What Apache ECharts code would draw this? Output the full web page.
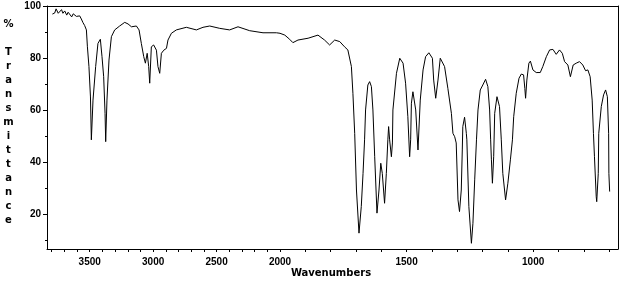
<!DOCTYPE html>
<html><head><meta charset="utf-8">
<script src="https://cdn.jsdelivr.net/npm/echarts@6/dist/echarts.min.js"></script>
<style>html,body{margin:0;padding:0;background:#fff}#c{width:624px;height:289px}</style>
</head><body><div id="c"></div>
<script>
// Spectrum: wavenumber (cm-1) and % transmittance
const wavenumbers = [
  3794,3776,3765,3758,3748,3737,3722,3711,3697,3681,3670,3658,3642,3630,3618,3605,3592,3579,3566,3553,
  3540,3526,3518,3506,3494,3487,3474,3453,3435,3416,3403,3390,3379,3374,3364,3348,3329,3303,3264,3224,
  3198,3171,3132,3111,3093,3074,3061,3047,3035,3027,3014,2996,2974,2962,2948,2935,2916,2895,2883,2856,
  2817,2738,2659,2607,2554,2475,2397,2331,2239,2134,2028,2000,
  1981,1962,1949,1929,1889,1850,1824,1804,1784,1764,1745,1732,1718,1712,1705,1698,1688,1679,1672,1666,
  1662,1653,1646,1639,1633,1626,1617,1609,1602,1596,1587,1580,1574,1571,1567,1560,1556,1554,1540,1527,
  1514,1504,1495,1488,1484,1481,1475,1464,1455,1446,1435,1425,1412,1398,1393,1385,1376,1367,1360,1350,
  1337,1323,1317,1310,1304,1297,1291,1284,1280,1278,1271,1264,1262,1254,1244,1238,1231,1224,1218,1209,
  1199,1188,1179,1172,1168,1165,1161,1156,1152,1143,1133,1126,1120,1109,1100,1090,1082,1077,1067,1056,
  1047,1038,1033,1030,1025,1017,1011,1001,988,972,962,948,935,922,909,896,885,876,863,853,
  842,830,817,804,793,784,775,767,762,758,751,749,743,741,731,722,714,707,702,701,698
];
const transmittance = [
  96.9,97.3,98.9,98.5,97.2,97.7,98.6,97.2,98.1,96.5,97.6,97.3,95.8,97.0,96.5,96.0,95.6,96.2,95.0,93.6,
  92.5,90.8,84.3,76.7,65.0,48.5,63.8,76.7,85.6,87.2,80.5,72.8,58.7,47.8,63.8,79.2,88.2,90.8,92.3,93.7,
  93.1,92.0,92.3,90.8,85.6,80.5,78.0,81.8,76.7,70.3,84.3,85.0,83.0,76.7,74.1,81.8,83.0,83.7,86.9,89.5,
  90.8,91.8,90.8,91.8,92.3,91.4,90.8,92.0,90.5,89.7,89.7,89.5,
  88.8,87.2,85.9,86.9,87.6,88.8,86.9,85.0,86.9,86.3,84.3,83.1,76.7,66.4,51.0,29.2,12.6,22.8,35.6,48.5,
  60.0,69.6,70.9,69.0,60.0,42.0,20.3,29.2,39.5,35.6,24.1,35.6,48.5,53.6,48.5,42.0,47.3,60.0,74.1,79.9,
  78.0,70.3,57.4,42.0,48.5,62.6,67.0,60.0,44.6,63.8,75.4,80.5,82.0,79.9,71.5,64.5,71.5,79.9,80.3,76.7,
  68.3,58.7,51.0,49.7,47.3,25.4,20.9,29.2,44.6,53.6,57.2,51.0,48.5,22.8,8.7,16.4,33.1,48.5,60.0,67.7,
  69.6,71.8,69.0,60.0,48.5,40.8,31.8,42.0,58.7,65.1,61.3,48.5,35.6,25.4,31.8,40.8,48.5,57.4,66.4,72.2,
  73.8,73.5,68.3,64.5,71.5,78.0,78.8,75.4,74.4,74.4,76.7,80.5,83.1,83.3,81.4,83.1,81.8,78.6,77.3,72.8,
  77.3,78.0,78.6,77.3,75.1,75.4,72.8,63.8,51.0,42.0,26.6,24.7,35.6,51.0,61.3,65.8,67.7,65.1,51.0,35.6,28.6
];
const xLabelsHigh = [3500, 3000, 2500, 2000];
const xLabelsLow = [1500, 1000];
const xTicksHigh = [2000,2100,2200,2300,2400,2500,2600,2700,2800,2900,3000,3100,3200,3300,3400,3500,3600,3700,3800];
const xTicksLow = [700,800,900,1000,1100,1200,1300,1400,1500,1600,1700,1800,1900,2000];
const yLabels = [20, 40, 60, 80, 100];
const yMinorTicks = [10, 30, 50, 70, 90];
const breakWn = 2000;
const xHighRange = [2000, 3836.6];
const xLowRange = [665, 2000];
const yRange = [6.5, 100];

const highData = [], lowData = [];
wavenumbers.forEach((w, i) => {
  if (w >= breakWn) highData.push([w, transmittance[i]]);
  if (w <= breakWn) lowData.push([w, transmittance[i]]);
});

const plain = v => String(v);
const font = {fontFamily: 'Liberation Sans, Arial, sans-serif', fontWeight: 'bold', fontSize: 10, color: '#000'};
const lineStyle = {color: '#000', width: 1};

function bottomAxis(grid, range, ticks, labels) {
  return {
    type: 'value', gridIndex: grid, position: 'bottom', inverse: true,
    min: range[0], max: range[1],
    axisLine: {show: true, onZero: false, lineStyle},
    axisTick: {show: true, length: 3, lineStyle, customValues: ticks},
    axisLabel: Object.assign({show: true, margin: 8, customValues: labels, formatter: plain}, font),
    splitLine: {show: false}
  };
}
function topAxis(grid, range) {
  return {
    type: 'value', gridIndex: grid, position: 'top', inverse: true,
    min: range[0], max: range[1],
    axisLine: {show: true, onZero: false, lineStyle},
    axisTick: {show: false}, axisLabel: {show: false}, splitLine: {show: false}
  };
}

const chart = echarts.init(document.getElementById('c'), null, {renderer: 'canvas'});
chart.setOption({
  animation: false,
  backgroundColor: '#fff',
  grid: [
    {left: 47, top: 6, width: 233, bottom: 40},
    {left: 280, top: 6, width: 338, bottom: 40}
  ],
  xAxis: [
    bottomAxis(0, xHighRange, xTicksHigh, xLabelsHigh),
    bottomAxis(1, xLowRange, xTicksLow, xLabelsLow),
    topAxis(0, xHighRange),
    topAxis(1, xLowRange)
  ],
  yAxis: [
    {
      type: 'value', gridIndex: 0, position: 'left', min: yRange[0], max: yRange[1],
      axisLine: {show: true, onZero: false, lineStyle},
      axisTick: {show: true, length: 4, lineStyle, customValues: yLabels},
      axisLabel: Object.assign({show: true, margin: 6, customValues: yLabels, formatter: plain}, font),
      splitLine: {show: false}
    },
    {
      type: 'value', gridIndex: 0, position: 'left', min: yRange[0], max: yRange[1],
      axisLine: {show: false},
      axisTick: {show: true, length: 2, lineStyle, customValues: yMinorTicks},
      axisLabel: {show: false}, splitLine: {show: false}
    },
    {
      type: 'value', gridIndex: 1, position: 'right', min: yRange[0], max: yRange[1],
      axisLine: {show: true, onZero: false, lineStyle},
      axisTick: {show: false}, axisLabel: {show: false}, splitLine: {show: false}
    }
  ],
  series: [
    {type: 'line', xAxisIndex: 0, yAxisIndex: 0, data: highData, showSymbol: false, symbol: 'none',
     lineStyle: {color: '#000', width: 1}, silent: true},
    {type: 'line', xAxisIndex: 1, yAxisIndex: 2, data: lowData, showSymbol: false, symbol: 'none',
     lineStyle: {color: '#000', width: 1}, silent: true}
  ],
  graphic: [
    {type: 'text', x: 331, y: 273.5, style: {text: 'Wavenumbers', textAlign: 'center', textVerticalAlign: 'middle',
      font: 'bold 10px "DejaVu Sans", sans-serif', fill: '#000'}},
    {type: 'text', x: 8.5, y: 17, style: {text: '%\n\nT\nr\na\nn\ns\nm\ni\nt\nt\na\nn\nc\ne', textAlign: 'center', textVerticalAlign: 'top',
      lineHeight: 14, font: 'bold 10px "DejaVu Sans", sans-serif', fill: '#000'}}
  ]
});
</script>
</body></html>
